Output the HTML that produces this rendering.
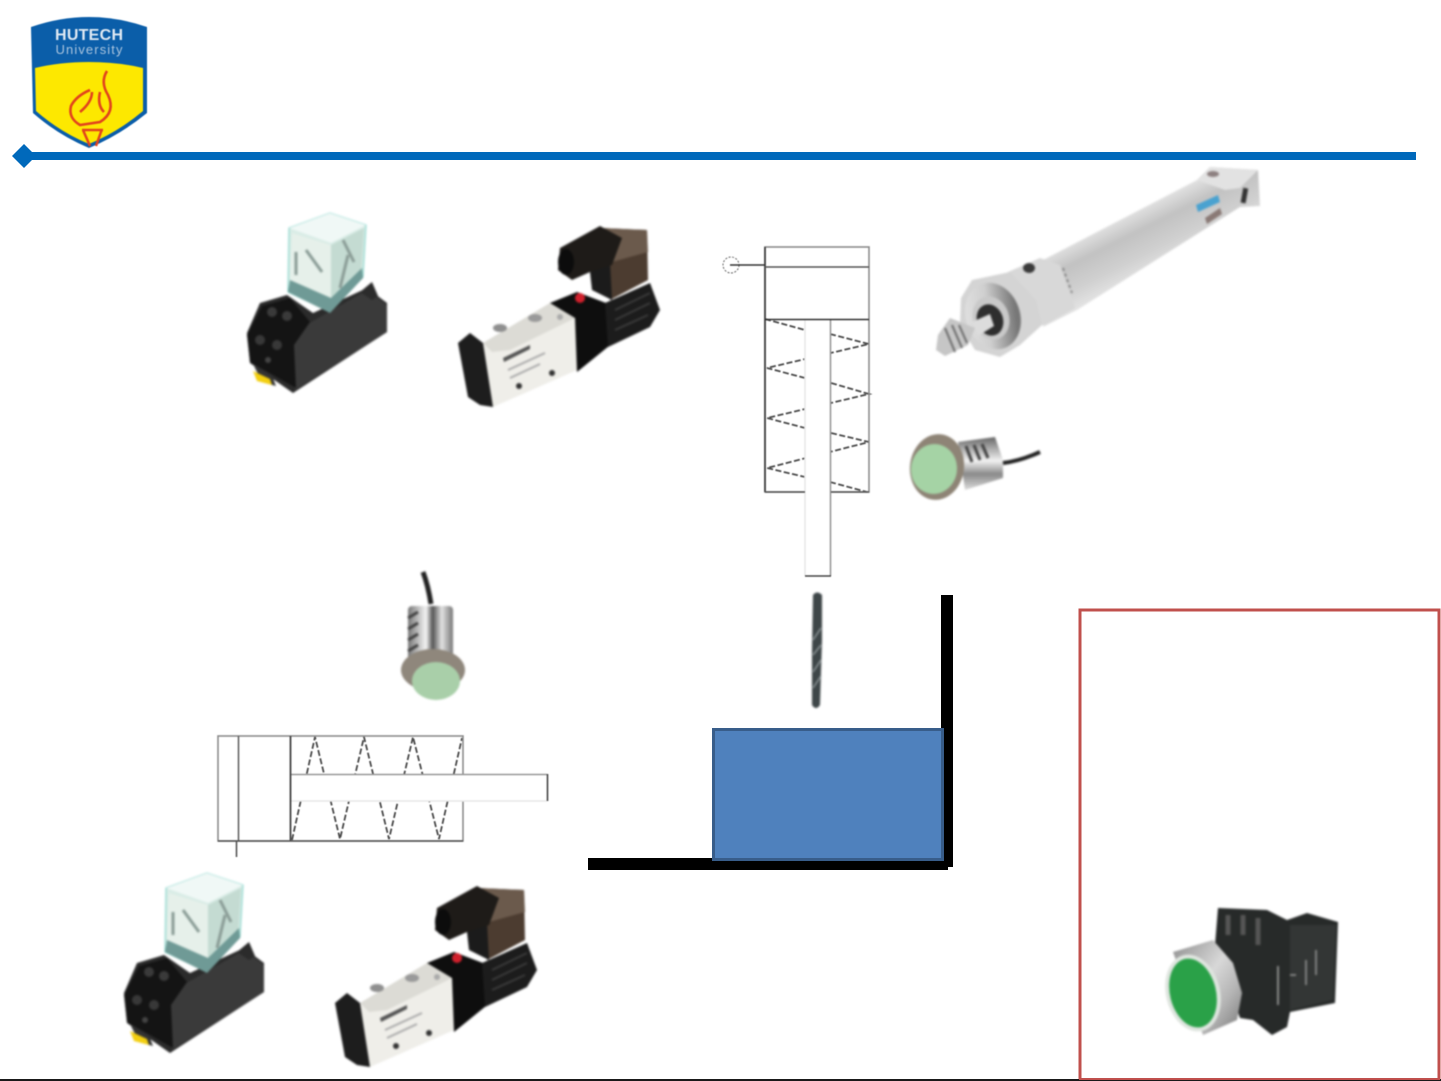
<!DOCTYPE html>
<html lang="en">
<head>
<meta charset="utf-8">
<title>Diagram</title>
<style>
html,body{margin:0;padding:0;background:#fff;width:1441px;height:1081px;overflow:hidden}
svg{display:block}
.b1{filter:blur(1px)}
.b2{filter:blur(.6px)}
.b3{filter:blur(.4px)}
</style>
</head>
<body>
<svg xmlns="http://www.w3.org/2000/svg" width="1441" height="1081" viewBox="0 0 1441 1081">
<defs>
<linearGradient id="cyl" gradientUnits="userSpaceOnUse" x1="1120" y1="218" x2="1150" y2="278">
<stop offset="0" stop-color="#e2e2e2"/><stop offset="0.3" stop-color="#c2c2c2"/><stop offset="0.65" stop-color="#d0d0d0"/><stop offset="1" stop-color="#e8e8e8"/>
</linearGradient>
<linearGradient id="chrome" x1="0" y1="0" x2="0" y2="1">
<stop offset="0" stop-color="#666"/><stop offset="0.45" stop-color="#f2f2f2"/><stop offset="0.7" stop-color="#8a8a8a"/><stop offset="1" stop-color="#ddd"/>
</linearGradient>
<linearGradient id="chromeV" x1="0" y1="0" x2="1" y2="0">
<stop offset="0" stop-color="#777"/><stop offset="0.4" stop-color="#f4f4f4"/><stop offset="0.55" stop-color="#555"/><stop offset="0.75" stop-color="#e2e2e2"/><stop offset="1" stop-color="#777"/>
</linearGradient>
<linearGradient id="ring" x1="0" y1="0" x2="1" y2="0.3">
<stop offset="0" stop-color="#e4e4e4"/><stop offset="0.5" stop-color="#cfcfcf"/><stop offset="0.8" stop-color="#9a9a9a"/><stop offset="1" stop-color="#777"/>
</linearGradient>
<linearGradient id="silver" x1="0" y1="0" x2="1" y2="1">
<stop offset="0" stop-color="#8e8e8e"/><stop offset="0.45" stop-color="#d8d8d8"/><stop offset="0.7" stop-color="#b5b5b5"/><stop offset="1" stop-color="#777"/>
</linearGradient>
<g id="relay">
<polygon points="247,333 260,303 287,295 313,313 367,288 387,303 387,332 293,393 250,363" fill="#2b2b2b"/>
<polygon points="306,325 367,290 387,305 387,332 295,390 288,350" fill="#3a3a3a"/>
<polygon points="360,292 372,282 378,296 372,300" fill="#2b2b2b"/>
<polygon points="247,335 262,306 290,298 310,322 294,345 296,388 250,362" fill="#141414"/>
<circle cx="272" cy="312" r="5" fill="#3a3a3a"/><circle cx="287" cy="316" r="5" fill="#3a3a3a"/><circle cx="260" cy="340" r="5" fill="#383838"/><circle cx="277" cy="345" r="5" fill="#383838"/><circle cx="268" cy="360" r="3" fill="#444"/>
<polygon points="254,366 272,376 276,386 262,382" fill="#333"/>
<polygon points="253,371 270,379 272,385 257,381" fill="#f3cf10"/>
<polygon points="289,228 330,213 366,225 363,277 330,312 288,292" fill="#d9ece6" stroke="#7fd3c8" stroke-width="1"/>
<polygon points="292,233 331,245 331,305 290,288" fill="#e6f0ea"/>
<polygon points="331,245 364,228 361,276 331,308" fill="#c4dbd2"/>
<polygon points="289,228 330,213 366,225 331,243" fill="#f0f8f6"/>
<polygon points="290,280 331,298 362,268 363,278 330,313 288,292" fill="#6f9a96"/>
<path d="M343 240L354 262M348 255L340 288M306 250L322 272M296 252 L296 275" stroke="#8a9c96" stroke-width="3" fill="none"/>
</g>
<g id="valve">
<polygon points="483,343 550,303 575,318 577,370 493,407" fill="#efeee9"/>
<polygon points="483,343 550,303 575,318 510,350 492,352" fill="#dcdbd5"/>
<ellipse cx="500" cy="328" rx="7" ry="4" fill="#8f8f8f"/>
<ellipse cx="535" cy="318" rx="7" ry="4" fill="#9a9a9a"/>
<ellipse cx="560" cy="317" rx="3" ry="3" fill="#aaa"/>
<polygon points="458,343 470,333 483,343 493,407 480,405 468,397" fill="#1d1d1d"/>
<polygon points="550,303 577,292 606,303 609,346 577,372 575,318" fill="#0e0e0e"/>
<polygon points="605,303 650,283 660,310 650,327 608,347" fill="#1c1c1c"/>
<path d="M615 310L650 293M615 320L650 303M615 330L648 315" stroke="#3a3a3a" stroke-width="2"/>
<polygon points="600,228 647,230 648,280 610,300 606,262" fill="#4c3c30"/>
<polygon points="600,228 647,230 648,252 612,262" fill="#6b5a4c"/>
<polygon points="590,272 610,262 612,300 592,290" fill="#1b1b1b"/>
<polygon points="560,248 600,226 622,238 612,265 590,272 572,280 558,270" fill="#1e1b18"/>
<ellipse cx="566" cy="262" rx="8" ry="13" fill="#0c0c0c"/>
<circle cx="580" cy="298" r="5" fill="#d0202c"/>
<circle cx="519" cy="386" r="3" fill="#333"/><circle cx="552" cy="373" r="3" fill="#333"/>
<polygon points="503,358 530,345 530,349 504,362" fill="#555"/>
<path d="M508 370L545 353M510 378L540 364" stroke="#aaa" stroke-width="2" fill="none"/>
</g>
</defs>
<rect width="1441" height="1081" fill="#fff"/>

<!-- header logo -->
<g class="b2">
<path d="M31 27 Q60 17 89 17 Q118 17 147 27 L147 113 Q120 135 89 148 Q58 135 33 113Z" fill="#0b5ea9"/>
<path d="M35 68 Q60 62 89 62 Q118 62 143 68 L143 111 Q118 132 89 144 Q60 132 36 111Z" fill="#fde800"/>
<text x="89" y="40" font-family="Liberation Sans, sans-serif" font-size="16" font-weight="700" fill="#dfe9f3" text-anchor="middle" textLength="68">HUTECH</text>
<text x="89" y="54" font-family="Liberation Sans, sans-serif" font-size="13" fill="#a9c4de" text-anchor="middle" textLength="67">University</text>
<path d="M107 71 Q100 82 108 95 Q116 112 100 122 L80 125 Q68 118 71 106 Q76 96 90 90 M92 92 Q92 102 80 112 M100 92 Q97 105 104 112" fill="none" stroke="#e2451c" stroke-width="2.6"/>
<path d="M83 130 L90 146 M102 129 L96 146 M82 130 H103" fill="none" stroke="#e2451c" stroke-width="2.5"/>
</g>
<rect x="30" y="152" width="1386" height="8" fill="#0069bb"/>
<polygon points="24,144 36,156 24,168 12,156" fill="#0069bb"/>

<!-- photos -->
<g class="b1">
<use href="#relay"/>
<use href="#valve"/>
<use href="#relay" transform="translate(-123,660)"/>
<use href="#valve" transform="translate(-123,660)"/>

<!-- pneumatic cylinder photo -->
<polygon points="1043,260 1197,180 1210,167 1258,170 1260,206 1240,207 1077,310 1043,327" fill="url(#cyl)"/>
<polygon points="1197,180 1210,167 1258,170 1240,188 1225,190" fill="#e2e2e2"/>
<ellipse cx="1213" cy="174" rx="6" ry="3" fill="#8d8080"/>
<rect x="1242" y="188" width="5" height="15" fill="#333" transform="rotate(10 1244 195)"/>
<polygon points="1196,205 1218,195 1220,202 1198,212" fill="#4aa2d0"/>
<polygon points="1205,218 1220,208 1222,214 1207,224" fill="#8a7a76"/>
<polygon points="1008,272 1040,258 1060,265 1075,308 1045,325 1030,325" fill="#d8d8d8"/>
<ellipse cx="1029" cy="268" rx="6" ry="5" fill="#3a3a3a"/>
<path d="M1063 268L1072 293" stroke="#777" stroke-width="1.5" stroke-dasharray="3 3"/>
<polygon points="972,280 1010,272 1036,300 1042,325 1020,345 1000,357 975,350 960,325 961,298" fill="#d4d4d4"/>
<ellipse cx="993" cy="316" rx="27" ry="34" fill="url(#ring)" transform="rotate(-20 993 316)"/>
<ellipse cx="991" cy="318" rx="18" ry="22" fill="#c9c9c9" transform="rotate(-20 991 318)"/>
<ellipse cx="990" cy="320" rx="13" ry="16" fill="#2e2e2e" transform="rotate(-20 990 320)"/>
<polygon points="972,322 990,314 994,326 978,336" fill="#dcdcdc"/>
<polygon points="938,335 950,318 975,328 968,345 945,356 936,350" fill="#c6c6c6"/>
<path d="M945 328L955 352M952 325L962 348M959 325L967 343" stroke="#6a6a6a" stroke-width="2"/>

<!-- sensor right -->
<polygon points="958,442 995,437 1003,460 1003,478 965,490" fill="url(#chrome)"/>
<path d="M966 446L972 462M974 445L980 460M982 444L988 458" stroke="#444" stroke-width="3"/>
<path d="M1003 463 Q1020 461 1040 452" stroke="#222" stroke-width="4" fill="none"/>
<ellipse cx="937" cy="467" rx="27" ry="33" fill="#8e8476" transform="rotate(8 937 467)"/>
<ellipse cx="934" cy="469" rx="23" ry="25" fill="#a5d3a5" transform="rotate(8 934 469)"/>

<!-- sensor lower -->
<path d="M423 572 Q428 585 431 604" stroke="#222" stroke-width="5" fill="none"/>
<rect x="408" y="606" width="45" height="58" rx="4" fill="url(#chromeV)"/>
<path d="M408 618L418 612M408 629L418 623M408 640L418 634M408 651L418 645" stroke="#444" stroke-width="3"/>
<ellipse cx="433" cy="670" rx="32" ry="21" fill="#8f877c"/>
<ellipse cx="436" cy="681" rx="24" ry="19" fill="#a9cfa9"/>

<!-- drill -->
<path d="M813 595 Q817 590 822 595 L822 640 L820 705 Q816 711 812 705 L812 650Z" fill="#3e4648"/>
<path d="M813 640L821 628M813 655L821 645M813 672L821 660M813 688L821 676" stroke="#8d9597" stroke-width="1.500"/>

<!-- push button -->
<polygon points="1218,908 1267,910 1287,920 1307,913 1338,922 1335,1003 1290,1012 1287,1027 1272,1035 1253,1020 1240,1018 1215,945" fill="#272a29"/>
<path d="M1228 915V935M1243 915V935M1258 918V945" stroke="#555" stroke-width="5"/>
<polygon points="1290,925 1336,925 1333,1000 1290,1010" fill="#333635"/>
<path d="M1290 975H1296M1306 960V985M1316 950V975" stroke="#999" stroke-width="1.500"/>
<path d="M1278 966V1005" stroke="#aaa" stroke-width="1.500"/>
<polygon points="1173,952 1213,940 1233,963 1242,993 1237,1020 1203,1035" fill="url(#silver)"/>
<ellipse cx="1193" cy="993" rx="27" ry="39" fill="#dfe5df" transform="rotate(-14 1193 993)"/>
<ellipse cx="1193" cy="993" rx="23" ry="35" fill="#2aa148" transform="rotate(-14 1193 993)"/>
</g>

<!-- cylinder symbol vertical -->
<g class="b3" stroke="#8c8c8c" stroke-width="1.6" fill="none">
<path d="M765 319 L805 330 M830 334 L869 344 L767 368 L805 378 M831 383 L869 394 L767 418 L805 428 M831 433 L869 442 L767 468 L805 477 M830 482 L867 492" stroke="#4a4a4a" stroke-width="1.8" stroke-dasharray="6 2.500"/>
<rect x="765" y="247" width="104" height="245"/>
<rect x="805" y="320" width="26" height="256" fill="#fff" stroke="none"/>
<path d="M805 320 V576" stroke="#e8e8e8"/>
<path d="M830.5 319 V576" stroke="#9a9a9a"/>
<path d="M805 576 H831" stroke="#444"/>
<path d="M765 247 V492" stroke="#444" stroke-width="1.800"/>
<path d="M765 267 H869" stroke="#555"/>
<path d="M765 319.5 H869" stroke="#333"/>
<path d="M765 492 H805 M831 492 H869" stroke="#555"/>
<circle cx="731" cy="265" r="8" stroke="#666" stroke-width="1" stroke-dasharray="2 1.500"/>
<path d="M730 265 H765" stroke="#333"/>
</g>

<!-- cylinder symbol horizontal -->
<g class="b3" stroke="#8c8c8c" stroke-width="1.6" fill="none">
<path d="M292 840 L315 737 L340 839 L364 737 L389 839 L413 737 L439 839 L462 738" stroke="#4a4a4a" stroke-width="1.8" stroke-dasharray="6 2.500"/>
<rect x="218" y="736" width="245" height="105"/>
<rect x="291" y="775" width="256" height="26" fill="#fff" stroke="none"/>
<path d="M290 774.500 H547" stroke="#999"/>
<path d="M290 801 H547" stroke="#e8e8e8"/>
<path d="M547.500 774 V801" stroke="#444"/>
<path d="M238.500 736 V841" stroke="#666"/>
<path d="M290.500 736 V841" stroke="#444" stroke-width="1.800"/>
<path d="M218 841 H463" stroke="#555"/>
<path d="M236.500 841 V857" stroke="#555"/>
</g>

<!-- workpiece -->
<rect x="941" y="595" width="12" height="272" fill="#000"/>
<rect x="588" y="858" width="360" height="12" fill="#000"/>
<rect x="713.500" y="729.500" width="229" height="130" fill="#4f81bd" stroke="#385d8a" stroke-width="3"/>

<!-- red box -->
<rect x="1080" y="610" width="359" height="470" fill="none" stroke="#c0504d" stroke-width="3"/>

<!-- bottom edge -->
<rect x="0" y="1079" width="1441" height="2" fill="#1a1a1a"/>
<rect x="1079" y="1078" width="361" height="2" fill="#c0504d"/>
</svg>
</body>
</html>
